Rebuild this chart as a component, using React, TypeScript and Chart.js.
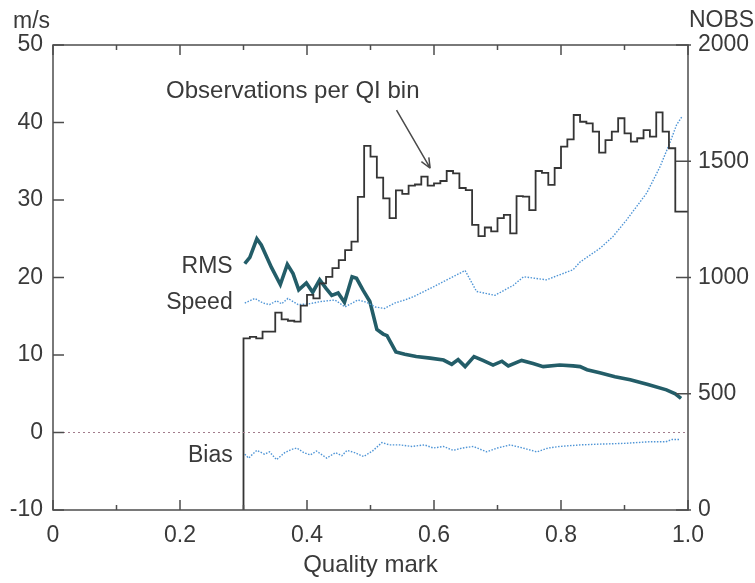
import React, { useEffect, useRef } from "react";
import { Chart, registerables } from "chart.js";

Chart.register(...registerables);

// ---- data ----
const binStart = 0.3;
const binWidth = 0.01;
const obsPerBin = [
  330, 738, 745, 738, 767, 767, 849, 820, 814, 810,
  879, 925, 910, 975, 1003, 1040, 1075, 1118, 1154, 1347,
  1566, 1520, 1430, 1340, 1255, 1375, 1360, 1395, 1400, 1434,
  1395, 1405, 1415, 1458, 1448, 1385, 1376, 1226, 1178, 1215,
  1198, 1255, 1269, 1190, 1350, 1348, 1290, 1458, 1450, 1398,
  1471, 1563, 1594, 1699, 1670, 1663, 1627, 1537, 1591, 1627,
  1685, 1620, 1584, 1599, 1634, 1606, 1710, 1627, 1556, 1283,
];

const rmsQ = [
  0.302, 0.31, 0.321, 0.328, 0.344, 0.358, 0.369, 0.378, 0.387, 0.399,
  0.409, 0.42, 0.43, 0.439, 0.449, 0.459, 0.471, 0.478, 0.488, 0.499,
  0.51, 0.52, 0.526, 0.54, 0.554, 0.572, 0.594, 0.615, 0.628, 0.638,
  0.649, 0.663, 0.677, 0.693, 0.707, 0.717, 0.738, 0.756, 0.772, 0.798,
  0.819, 0.83, 0.841, 0.861, 0.885, 0.909, 0.937, 0.966, 0.98, 0.989,
];
const rmsV = [
  21.8, 22.6, 25.0, 24.2, 21.3, 19.1, 21.7, 20.5, 18.4, 19.3,
  18.1, 19.7, 18.6, 17.7, 18.0, 16.8, 20.1, 19.9, 18.4, 16.9,
  13.3, 12.7, 12.5, 10.4, 10.1, 9.8, 9.6, 9.35, 8.8, 9.4,
  8.5, 9.8, 9.3, 8.7, 9.2, 8.6, 9.3, 8.9, 8.5, 8.7,
  8.6, 8.5, 8.1, 7.7, 7.2, 6.8, 6.2, 5.5, 5.0, 4.4,
];

const speedQ = [
  0.302, 0.318, 0.331, 0.341, 0.352, 0.36, 0.37, 0.386, 0.403, 0.422,
  0.444, 0.46, 0.48, 0.494, 0.507, 0.522, 0.538, 0.554, 0.567, 0.599,
  0.649, 0.667, 0.696, 0.725, 0.741, 0.777, 0.819, 0.83, 0.862, 0.882,
  0.903, 0.935, 0.956, 0.972, 0.982, 0.99,
];
const speedV = [
  16.7, 17.3, 16.7, 16.5, 17.0, 16.6, 17.3, 16.5, 16.6, 16.9,
  17.1, 16.2, 17.1, 16.8, 16.2, 16.0, 16.7, 17.1, 17.5, 18.8,
  20.9, 18.2, 17.7, 19.0, 20.1, 19.7, 21.0, 22.0, 23.8, 25.3,
  27.4, 30.9, 34.3, 37.5, 39.7, 40.7,
];

const biasQ = [
  0.302, 0.308, 0.321, 0.333, 0.341, 0.352, 0.365, 0.375, 0.384, 0.395,
  0.405, 0.415, 0.431, 0.445, 0.455, 0.463, 0.475, 0.489, 0.503, 0.518,
  0.53, 0.546, 0.565, 0.585, 0.599, 0.615, 0.63, 0.645, 0.662, 0.683,
  0.7, 0.72, 0.74, 0.762, 0.78, 0.798, 0.83, 0.861, 0.9, 0.939,
  0.965, 0.975, 0.987,
];
const biasV = [
  -2.8, -3.3, -2.3, -2.8, -2.5, -3.5, -2.6, -2.2, -2.0, -2.6,
  -2.9, -2.4, -3.3, -2.6, -3.0, -2.3, -2.6, -3.1, -2.4, -1.3,
  -1.6, -1.6, -1.8, -1.6, -2.0, -1.8, -2.3, -2.0, -1.8, -2.5,
  -2.0, -1.6, -2.0, -2.5, -2.0, -1.8, -1.6, -1.5, -1.4, -1.2,
  -1.2, -0.9, -0.9,
];

const zeroQ = [0, 1];
const zeroV = [0, 0];

const xTicks = [0, 0.1, 0.2, 0.3, 0.4, 0.5, 0.6, 0.7, 0.8, 0.9, 1.0];
const leftTicks = [-10, 0, 10, 20, 30, 40, 50];
const rightTicks = [0, 500, 1000, 1500, 2000];

// ---- styles ----
const FONT = "'Liberation Sans', Arial, Helvetica, sans-serif";
const TEXT = "#3a3a3a";
const FRAME = "#4d4d4d";

const pts = (xs: number[], ys: number[]) => xs.map((x, i) => ({ x, y: ys[i] }));

const framePlugin = {
  id: "frameTicks",
  afterDatasetsDraw(chart: any) {
    const { ctx, chartArea: a, scales } = chart;
    ctx.save();
    ctx.strokeStyle = FRAME;
    ctx.lineWidth = 1.5;
    ctx.strokeRect(a.left, a.top, a.right - a.left, a.bottom - a.top);
    ctx.beginPath();
    xTicks.forEach((v) => {
      const px = scales.x.getPixelForValue(v);
      const major = Math.round(v * 10) % 2 === 0;
      const len = major ? 10 : 5;
      ctx.moveTo(px, a.bottom);
      ctx.lineTo(px, a.bottom - len);
      ctx.moveTo(px, a.top);
      ctx.lineTo(px, a.top + len);
    });
    leftTicks.forEach((v) => {
      const py = scales.y.getPixelForValue(v);
      ctx.moveTo(a.left, py);
      ctx.lineTo(a.left + 11, py);
    });
    rightTicks.forEach((v) => {
      const py = scales.y1.getPixelForValue(v);
      ctx.moveTo(a.right - 12, py);
      ctx.lineTo(a.right + 3, py);
    });
    ctx.stroke();
    ctx.restore();
  },
  afterDraw(chart: any) {
    const { ctx, chartArea: a, scales } = chart;
    const X = (q: number) => scales.x.getPixelForValue(q);
    const Y = (v: number) => scales.y.getPixelForValue(v);
    const Y1 = (v: number) => scales.y1.getPixelForValue(v);
    ctx.save();
    ctx.fillStyle = TEXT;
    ctx.font = `23px ${FONT}`;
    ctx.textBaseline = "alphabetic";
    // unit labels
    ctx.textAlign = "left";
    ctx.fillText("m/s", a.left - 40, a.top - 17);
    ctx.fillText("NOBS", a.right + 1, a.top - 18);
    // series labels
    ctx.textAlign = "right";
    ctx.fillText("RMS", X(0.283), Y(20.6));
    ctx.fillText("Speed", X(0.283), Y(15.9));
    ctx.fillText("Bias", X(0.283), Y(-3.8));
    ctx.textAlign = "left";
    ctx.font = `24px ${FONT}`;
    ctx.fillText("Observations per QI bin", X(0.178), Y1(1772));
    // arrow
    const x0 = X(0.541), y0 = Y1(1720), x1 = X(0.594), y1 = Y1(1470);
    ctx.strokeStyle = "#4a4a4a";
    ctx.lineWidth = 1.5;
    ctx.beginPath();
    ctx.moveTo(x0, y0);
    ctx.lineTo(x1, y1);
    const ang = Math.atan2(y1 - y0, x1 - x0);
    const h = 11;
    ctx.moveTo(x1, y1);
    ctx.lineTo(x1 - h * Math.cos(ang - 0.4), y1 - h * Math.sin(ang - 0.4));
    ctx.moveTo(x1, y1);
    ctx.lineTo(x1 - h * Math.cos(ang + 0.4), y1 - h * Math.sin(ang + 0.4));
    ctx.stroke();
    ctx.restore();
  },
};

export default function App() {
  const ref = useRef<HTMLCanvasElement | null>(null);

  useEffect(() => {
    document.body.style.margin = "0";
    if (!ref.current) return;
    Chart.defaults.font.family = FONT;
    const obsPoints = [
      { x: binStart, y: 0 },
      ...obsPerBin.map((v, i) => ({ x: +(binStart + i * binWidth).toFixed(2), y: v })),
      { x: 1.0, y: obsPerBin[obsPerBin.length - 1] },
    ];
    const chart = new Chart(ref.current, {
      type: "line",
      data: {
        datasets: [
          {
            data: pts(zeroQ, zeroV) as any,
            yAxisID: "y",
            borderColor: "#a27c8c",
            borderWidth: 1,
            borderDash: [2, 3],
            pointRadius: 0,
          },
          {
            data: obsPoints as any,
            yAxisID: "y1",
            stepped: "after",
            borderColor: "#353535",
            borderWidth: 1.8,
            pointRadius: 0,
          },
          {
            data: pts(speedQ, speedV) as any,
            yAxisID: "y",
            borderColor: "#4f95d6",
            borderWidth: 1.4,
            borderDash: [1.5, 1.5],
            pointRadius: 0,
          },
          {
            data: pts(biasQ, biasV) as any,
            yAxisID: "y",
            borderColor: "#4f95d6",
            borderWidth: 1.4,
            borderDash: [1.5, 1.5],
            pointRadius: 0,
          },
          {
            data: pts(rmsQ, rmsV) as any,
            yAxisID: "y",
            borderColor: "#235d68",
            borderWidth: 3.6,
            pointRadius: 0,
          },
          {
            data: pts(rmsQ, rmsV) as any,
            yAxisID: "y",
            borderColor: "#3aa2bb",
            borderWidth: 1.8,
            pointRadius: 0,
          },
        ],
      },
      options: {
        responsive: false,
        maintainAspectRatio: false,
        animation: false,
        layout: { padding: { top: 45, left: 0, right: 0, bottom: 0 } },
        plugins: { legend: { display: false }, tooltip: { enabled: false } },
        scales: {
          x: {
            type: "linear",
            min: 0,
            max: 1,
            grid: { display: false, drawTicks: false },
            border: { display: false },
            ticks: {
              stepSize: 0.1,
              autoSkip: false,
              maxRotation: 0,
              padding: 12,
              color: TEXT,
              font: { size: 23, family: FONT },
              callback: (v: any) => {
                const t = Math.round(Number(v) * 10);
                if (t % 2) return "";
                return t === 0 ? "0" : (t / 10).toFixed(1);
              },
            },
            title: {
              display: true,
              text: "Quality mark",
              color: TEXT,
              font: { size: 24, family: FONT },
              padding: { top: 0, bottom: 3 },
            },
            afterFit: (s: any) => {
              s.height = 73;
            },
          },
          y: {
            type: "linear",
            position: "left",
            min: -10,
            max: 50,
            grid: { display: false, drawTicks: false },
            border: { display: false },
            ticks: {
              stepSize: 10,
              padding: 10,
              color: TEXT,
              font: { size: 23, family: FONT },
              callback: (v: any) => String(v),
            },
            afterFit: (s: any) => {
              s.width = 53;
            },
          },
          y1: {
            type: "linear",
            position: "right",
            min: 0,
            max: 2000,
            grid: { display: false, drawTicks: false },
            border: { display: false },
            ticks: {
              stepSize: 500,
              padding: 10,
              color: TEXT,
              font: { size: 23, family: FONT },
              callback: (v: any) => String(v),
            },
            afterFit: (s: any) => {
              s.width = 67;
            },
          },
        },
      },
      plugins: [framePlugin],
    });
    return () => chart.destroy();
  }, []);

  return (
    <div style={{ position: "absolute", left: 0, top: 0, width: 755, height: 583, background: "#fff" }}>
      <canvas ref={ref} width={755} height={583} style={{ width: 755, height: 583, display: "block" }} />
    </div>
  );
}
